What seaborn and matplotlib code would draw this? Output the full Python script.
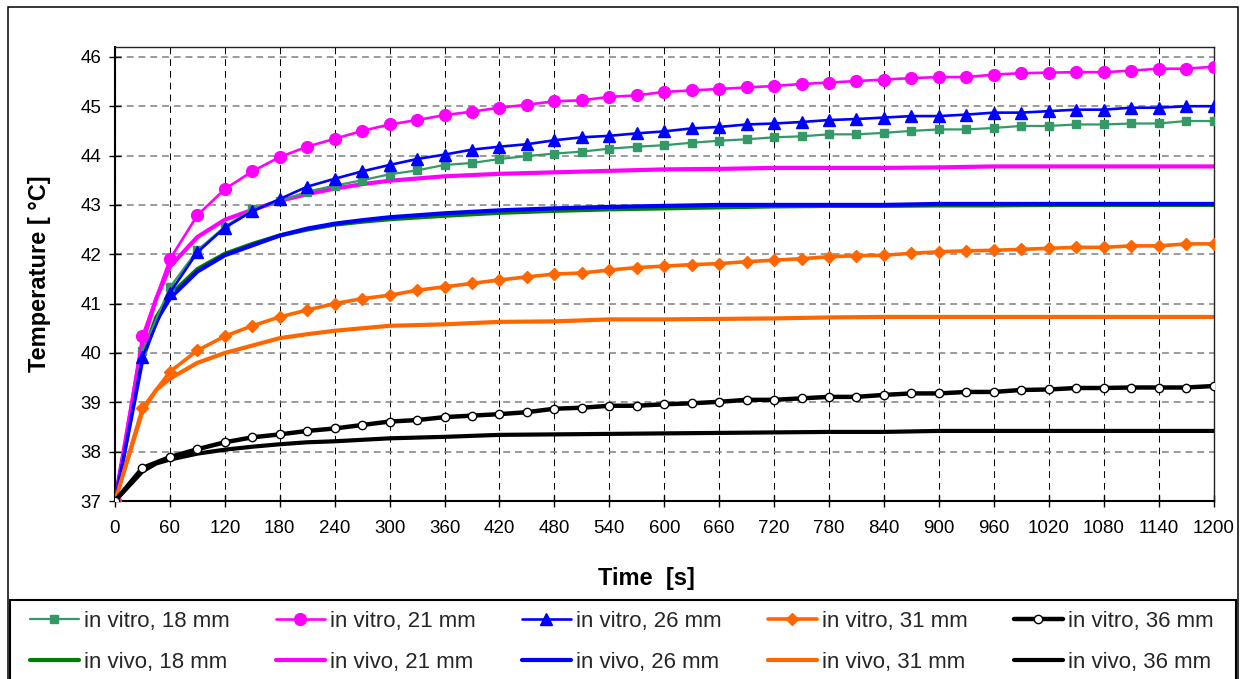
import numpy as np
import matplotlib
matplotlib.use('Agg')
import matplotlib.pyplot as plt
from matplotlib.patches import Rectangle
import seaborn as sns

# ── data ────────────────────────────────────────────────────
t_vitro = [0, 30, 60, 90, 120, 150, 180, 210, 240, 270, 300, 330, 360, 390,
           420, 450, 480, 510, 540, 570, 600, 630, 660, 690, 720, 750, 780,
           810, 840, 870, 900, 930, 960, 990, 1020, 1050, 1080, 1110, 1140,
           1170, 1200]

vitro_18 = [37.00, 40.03, 41.33, 42.08, 42.56, 42.91, 43.07, 43.27, 43.39, 43.50,
            43.62, 43.70, 43.81, 43.85, 43.93, 43.99, 44.04, 44.08, 44.14, 44.18,
            44.21, 44.26, 44.30, 44.33, 44.37, 44.39, 44.43, 44.43, 44.46, 44.50,
            44.53, 44.53, 44.56, 44.60, 44.60, 44.63, 44.63, 44.65, 44.65, 44.70,
            44.70]
vitro_21 = [37.00, 40.35, 41.90, 42.79, 43.32, 43.68, 43.97, 44.18, 44.34, 44.50,
            44.63, 44.72, 44.82, 44.89, 44.97, 45.03, 45.10, 45.12, 45.19, 45.22,
            45.29, 45.32, 45.35, 45.38, 45.41, 45.45, 45.48, 45.51, 45.54, 45.57,
            45.59, 45.59, 45.64, 45.67, 45.68, 45.69, 45.69, 45.72, 45.76, 45.76,
            45.80]
vitro_26 = [37.00, 39.92, 41.22, 42.04, 42.54, 42.87, 43.12, 43.37, 43.53, 43.68,
            43.81, 43.93, 44.02, 44.12, 44.18, 44.23, 44.31, 44.37, 44.40, 44.45,
            44.49, 44.55, 44.58, 44.63, 44.65, 44.68, 44.72, 44.74, 44.77, 44.80,
            44.80, 44.83, 44.87, 44.87, 44.90, 44.93, 44.93, 44.97, 44.97, 45.00,
            45.00]
vitro_31 = [37.00, 38.88, 39.62, 40.05, 40.34, 40.55, 40.73, 40.87, 41.00, 41.10,
            41.17, 41.27, 41.34, 41.41, 41.48, 41.54, 41.60, 41.62, 41.68, 41.73,
            41.76, 41.79, 41.81, 41.85, 41.88, 41.91, 41.95, 41.97, 41.98, 42.02,
            42.05, 42.07, 42.08, 42.10, 42.12, 42.14, 42.14, 42.17, 42.17, 42.21,
            42.21]
vitro_36 = [37.00, 37.67, 37.89, 38.05, 38.19, 38.29, 38.35, 38.42, 38.47, 38.54,
            38.61, 38.64, 38.70, 38.73, 38.76, 38.80, 38.87, 38.89, 38.93, 38.93,
            38.96, 38.98, 39.01, 39.05, 39.05, 39.08, 39.11, 39.11, 39.15, 39.18,
            39.18, 39.21, 39.21, 39.25, 39.26, 39.29, 39.29, 39.30, 39.30, 39.30,
            39.33]

t_vivo = [0, 30, 45, 60, 90, 120, 150, 180, 210, 240, 270, 300, 360, 420, 480,
          540, 600, 660, 720, 780, 840, 900, 960, 1020, 1080, 1140, 1200]

vivo_18 = [37.00, 39.95, 40.72, 41.17, 41.70, 42.01, 42.21, 42.38, 42.50, 42.60,
           42.66, 42.71, 42.78, 42.84, 42.88, 42.91, 42.93, 42.95, 42.97, 42.98,
           42.98, 42.99, 42.99, 43.00, 43.00, 43.00, 43.00]
vivo_21 = [37.00, 40.20, 41.10, 41.75, 42.35, 42.70, 42.90, 43.08, 43.22, 43.33,
           43.42, 43.49, 43.58, 43.63, 43.66, 43.69, 43.72, 43.73, 43.75, 43.75,
           43.75, 43.76, 43.78, 43.78, 43.78, 43.78, 43.78]
vivo_26 = [37.00, 39.88, 40.65, 41.11, 41.65, 41.98, 42.18, 42.38, 42.52, 42.62,
           42.69, 42.75, 42.83, 42.89, 42.93, 42.96, 42.98, 43.00, 43.00, 43.00,
           43.00, 43.02, 43.02, 43.02, 43.02, 43.02, 43.02]
vivo_31 = [37.00, 38.82, 39.25, 39.48, 39.80, 40.00, 40.15, 40.30, 40.38, 40.45,
           40.50, 40.55, 40.58, 40.63, 40.64, 40.68, 40.68, 40.69, 40.70, 40.72,
           40.73, 40.73, 40.73, 40.73, 40.73, 40.73, 40.73]
vivo_36 = [37.00, 37.60, 37.76, 37.84, 37.96, 38.04, 38.10, 38.15, 38.19, 38.21,
           38.24, 38.27, 38.30, 38.34, 38.35, 38.36, 38.37, 38.38, 38.39, 38.40,
           38.40, 38.42, 38.42, 38.42, 38.42, 38.42, 38.42]

x_ticks = [0, 60, 120, 180, 240, 300, 360, 420, 480, 540, 600, 660, 720, 780,
           840, 900, 960, 1020, 1080, 1140, 1200]
y_ticks = [37, 38, 39, 40, 41, 42, 43, 44, 45, 46]

# ── style ───────────────────────────────────────────────────
sns.set_theme(style='white')
plt.rcParams['font.family'] = ['Liberation Sans', 'DejaVu Sans']

fig = plt.figure(figsize=(12.41, 6.79), dpi=100)
W, H = 1241, 679
ax = fig.add_axes([115 / W, 1 - 501 / H, (1213.5 - 115) / W, (501 - 47) / H])

# in vivo lines (thick, no markers)
vivo_specs = [
    (vivo_18, '#008000', 'in vivo, 18 mm'),
    (vivo_21, '#FF00FF', 'in vivo, 21 mm'),
    (vivo_26, '#0000FF', 'in vivo, 26 mm'),
    (vivo_31, '#FF6600', 'in vivo, 31 mm'),
    (vivo_36, '#000000', 'in vivo, 36 mm'),
]
vivo_handles = []
for vals, col, lab in vivo_specs:
    sns.lineplot(x=t_vivo, y=vals, ax=ax, color=col, lw=3.0, zorder=2,
                 label=lab, sort=False)
    vivo_handles.append(ax.lines[-1])

# in vitro lines with markers
vitro_specs = [
    (vitro_18, '#339966', 's', 5.5, 1.6, '#339966', 'in vitro, 18 mm'),
    (vitro_21, '#FF00FF', 'o', 8.5, 1.9, '#FF00FF', 'in vitro, 21 mm'),
    (vitro_26, '#0000FF', '^', 8.0, 1.9, '#0000FF', 'in vitro, 26 mm'),
    (vitro_31, '#FF6600', 'D', 6.5, 2.6, '#FF6600', 'in vitro, 31 mm'),
    (vitro_36, '#000000', 'o', 6.0, 3.2, 'white', 'in vitro, 36 mm'),
]
vitro_handles = []
for vals, col, mk, ms, lw, mfc, lab in vitro_specs:
    sns.lineplot(x=t_vitro, y=vals, ax=ax, color=col, lw=lw, marker=mk,
                 markersize=ms, markerfacecolor=mfc, markeredgecolor=col,
                 markeredgewidth=1.0, zorder=3, label=lab, sort=False)
    vitro_handles.append(ax.lines[-1])

if ax.get_legend() is not None:
    ax.get_legend().remove()

# axes
ax.set_xlim(0, 1200)
ax.set_ylim(37, 46.2)
ax.set_xticks(x_ticks)
ax.set_yticks(y_ticks)
ax.tick_params(axis='both', direction='inout', length=8, width=1.0,
               color='black', labelsize=13.5, labelcolor='black')
ax.tick_params(axis='x', pad=10)
ax.tick_params(axis='y', pad=6)
ax.tick_params(left=True, bottom=True)

ax.yaxis.grid(True, color='#808080', linestyle=(0, (4.5, 3.2)), lw=1.1)
ax.xaxis.grid(True, color='black', linestyle=(0, (6.5, 4.8)), lw=0.75)
ax.set_axisbelow(True)

for side in ['left', 'bottom']:
    ax.spines[side].set_color('black')
    ax.spines[side].set_linewidth(1.5)
for side in ['top', 'right']:
    ax.spines[side].set_color('#222222')
    ax.spines[side].set_linewidth(1.0)

ax.set_xlabel('Time  [s]', fontsize=17, fontweight='bold', color='black')
ax.set_ylabel('Temperature [ °C]', fontsize=17, fontweight='bold', color='black')
ax.xaxis.set_label_coords((646 - 115) / (1213.5 - 115), -(578 - 501) / (501 - 47))
ax.yaxis.set_label_coords(-(115 - 40) / (1213.5 - 115), 0.5)
ax.xaxis.label.set_va('center')
ax.yaxis.label.set_va('center')

# outer chart frame and legend box
fig.add_artist(Rectangle((8 / W, -0.05), (1238 - 8) / W, 1.05 - 7 / H,
                         transform=fig.transFigure, fill=False,
                         edgecolor='black', lw=1.1, zorder=0))
fig.add_artist(Rectangle((10 / W, -0.05), (1236 - 10) / W, 0.05 + (1 - 600 / H),
                         transform=fig.transFigure, fill=False,
                         edgecolor='black', lw=1.5, zorder=0))

# legend: in vitro on first row, in vivo on second row
handles, labels = [], []
for hv, hw in zip(vitro_handles, vivo_handles):
    handles += [hv, hw]
    labels += [hv.get_label(), hw.get_label()]
fig.legend(handles, labels, ncol=5, loc='upper left',
           bbox_to_anchor=(30 / W, 1 - 611 / H), frameon=False, fontsize=16,
           handlelength=2.2, handletextpad=0.25, columnspacing=2.06,
           labelspacing=0.88, borderpad=0, borderaxespad=0)

fig.savefig('out.png', dpi=100)
